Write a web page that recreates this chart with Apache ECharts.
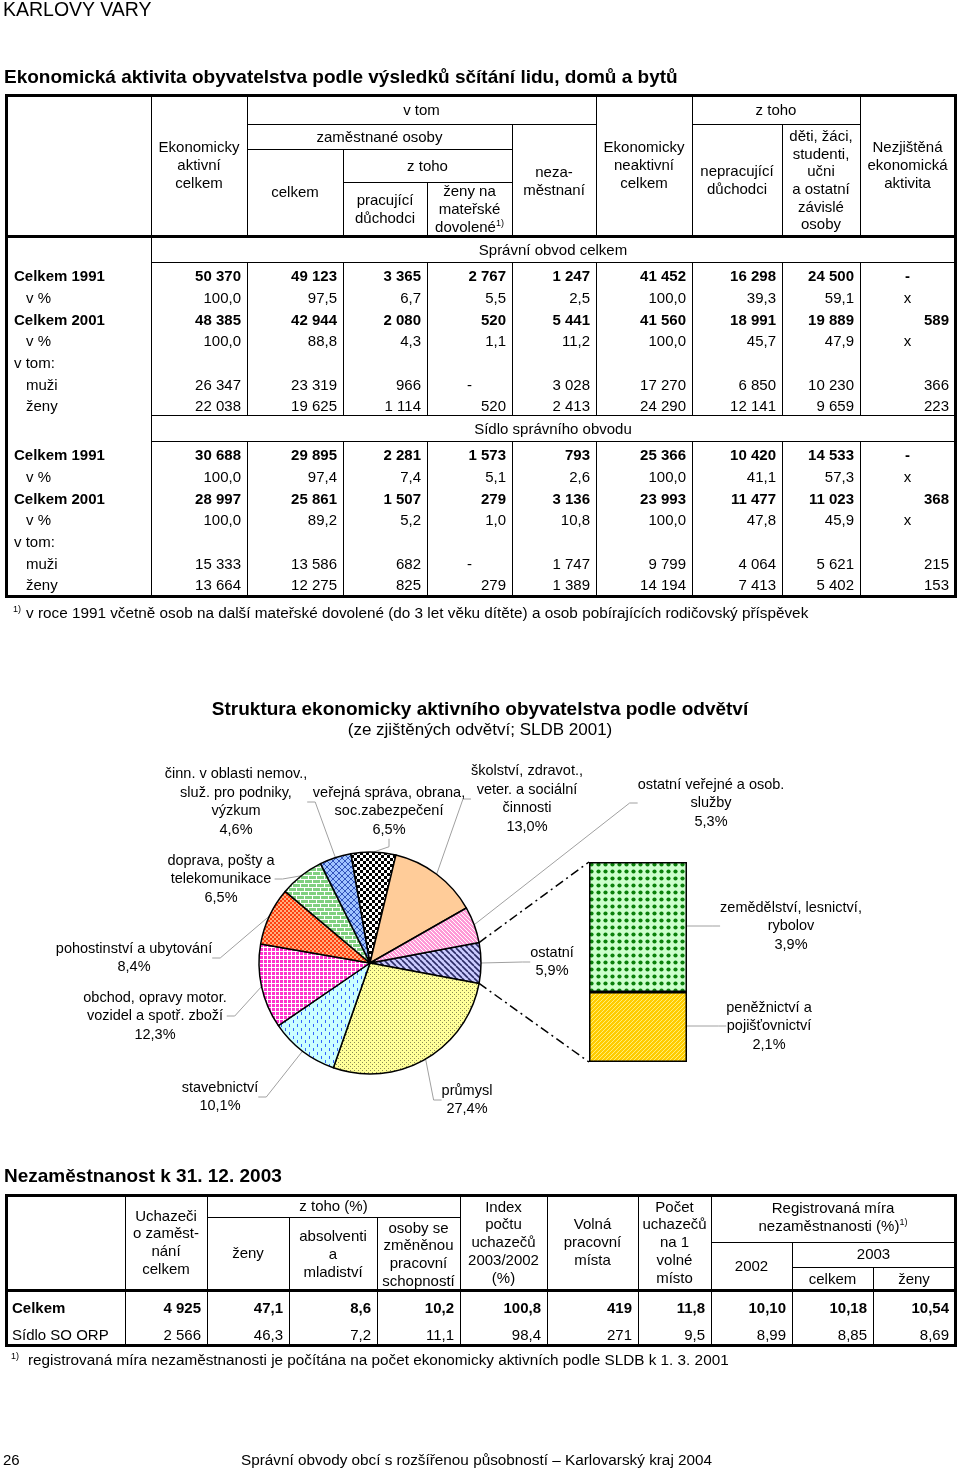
<!DOCTYPE html>
<html><head><meta charset="utf-8">
<script src="https://cdn.jsdelivr.net/npm/echarts@6/dist/echarts.min.js"></script>
<style>
html,body{margin:0;padding:0;background:#fff;}
body{width:960px;height:1469px;position:relative;overflow:hidden;font-family:"Liberation Sans",Arial,sans-serif;color:#000;}
#chart{position:absolute;left:0;top:0;width:960px;height:1469px;}
#page{position:absolute;left:0;top:0;width:960px;height:1469px;pointer-events:none;}
.t{position:absolute;white-space:nowrap;}
.ln{position:absolute;background:#000;}
sup{font-size:9px;vertical-align:0;position:relative;top:-6px;}
</style></head>
<body>
<div id="chart"></div>
<div id="page"></div>
<script>
// ---------------- DATA ----------------
const t1RowLabels = ['Celkem 1991', 'v %', 'Celkem 2001', 'v %', 'v tom:', 'muži', 'ženy'];
const t1SectionTitles = ['Správní obvod celkem', 'Sídlo správního obvodu'];
const t1Obvod = [
  ['50 370', '49 123', '3 365', '2 767', '1 247', '41 452', '16 298', '24 500', '-'],
  ['100,0', '97,5', '6,7', '5,5', '2,5', '100,0', '39,3', '59,1', 'x'],
  ['48 385', '42 944', '2 080', '520', '5 441', '41 560', '18 991', '19 889', '589'],
  ['100,0', '88,8', '4,3', '1,1', '11,2', '100,0', '45,7', '47,9', 'x'],
  null,
  ['26 347', '23 319', '966', '-', '3 028', '17 270', '6 850', '10 230', '366'],
  ['22 038', '19 625', '1 114', '520', '2 413', '24 290', '12 141', '9 659', '223']
];
const t1Sidlo = [
  ['30 688', '29 895', '2 281', '1 573', '793', '25 366', '10 420', '14 533', '-'],
  ['100,0', '97,4', '7,4', '5,1', '2,6', '100,0', '41,1', '57,3', 'x'],
  ['28 997', '25 861', '1 507', '279', '3 136', '23 993', '11 477', '11 023', '368'],
  ['100,0', '89,2', '5,2', '1,0', '10,8', '100,0', '47,8', '45,9', 'x'],
  null,
  ['15 333', '13 586', '682', '-', '1 747', '9 799', '4 064', '5 621', '215'],
  ['13 664', '12 275', '825', '279', '1 389', '14 194', '7 413', '5 402', '153']
];
const t2RowLabels = ['Celkem', 'Sídlo SO ORP'];
const t2Celkem = ['4 925', '47,1', '8,6', '10,2', '100,8', '419', '11,8', '10,10', '10,18', '10,54'];
const t2Sidlo = ['2 566', '46,3', '7,2', '11,1', '98,4', '271', '9,5', '8,99', '8,85', '8,69'];

const pieNames = ['ostatní', 'průmysl', 'stavebnictví', 'obchod, opravy motor.\nvozidel a spotř. zboží',
  'pohostinství a ubytování', 'doprava, pošty a\ntelekomunikace', 'činn. v oblasti nemov.,\nsluž. pro podniky,\nvýzkum',
  'veřejná správa, obrana,\nsoc.zabezpečení', 'školství, zdravot.,\nveter. a sociální\nčinnosti', 'ostatní veřejné a osob.\nslužby'];
const pieValues = [5.9, 27.4, 10.1, 12.3, 8.4, 6.5, 4.6, 6.5, 13.0, 5.3];
const barNames = ['peněžnictví a\npojišťovnictví', 'zemědělství, lesnictví,\nrybolov'];
const barValues = [2.1, 3.9];

// ---------------- PAGE (text + tables) ----------------
const FF = '"Liberation Sans",Arial,sans-serif';
const page = document.getElementById('page');
function line(x1, y1, x2, y2, w) {
  const d = document.createElement('div'); d.className = 'ln';
  if (y1 === y2) { d.style.left = (x1 - w / 2) + 'px'; d.style.top = (y1 - w / 2) + 'px'; d.style.width = (x2 - x1 + w) + 'px'; d.style.height = w + 'px'; }
  else { d.style.left = (x1 - w / 2) + 'px'; d.style.top = (y1 - w / 2) + 'px'; d.style.width = w + 'px'; d.style.height = (y2 - y1 + w) + 'px'; }
  page.appendChild(d);
}
function txt(x1, x2, yc, html, o) {
  o = o || {};
  const lh = o.lh || 17.7, size = o.size || 15;
  const n = (html.match(/<br>/g) || []).length + 1;
  const d = document.createElement('div'); d.className = 't';
  d.style.left = x1 + 'px'; d.style.width = (x2 - x1) + 'px';
  d.style.top = (yc - n * lh / 2) + 'px';
  d.style.lineHeight = lh + 'px'; d.style.fontSize = size + 'px';
  d.style.textAlign = o.align || 'center';
  if (o.bold) d.style.fontWeight = 'bold';
  if (o.family) d.style.fontFamily = o.family;
  if (o.pad) { d.style.boxSizing = 'border-box'; d.style.paddingRight = o.pad + 'px'; d.style.paddingLeft = o.pad + 'px'; }
  d.innerHTML = html;
  page.appendChild(d);
}
// headers
txt(3, 400, 9, 'KARLOVY VARY', { align: 'left', size: 19.5, lh: 22 });
txt(4, 900, 77, 'Ekonomická aktivita obyvatelstva podle výsledků sčítání lidu, domů a bytů', { align: 'left', size: 19, bold: true, lh: 22 });

// ---- Table 1 ----
const TK = 3;
const c1 = [151, 247, 343, 427, 512, 596, 692, 782, 860, 955];
line(6, 95, 955, 95, TK); line(6, 596, 955, 596, TK); line(6, 95, 6, 596, TK); line(955, 95, 955, 596, TK);
line(6, 236, 955, 236, TK);
line(151, 95, 151, 596, 1);
[[247, 95], [343, 149], [427, 182], [512, 124], [596, 95], [692, 95], [782, 124], [860, 95]].forEach(([x, y0]) => {
  line(x, y0, x, 236, 1); line(x, 262, x, 415, 1); line(x, 441, x, 596, 1);
});
line(247, 124, 596, 124, 1); line(692, 124, 860, 124, 1);
line(247, 149, 512, 149, 1); line(343, 182, 512, 182, 1);
[262, 415, 441].forEach(y => line(151, y, 955, y, 1));
txt(247, 596, 110, 'v tom'); txt(692, 860, 110, 'z toho');
txt(247, 512, 137, 'zaměstnané osoby'); txt(343, 512, 166, 'z toho');
txt(151, 247, 165, 'Ekonomicky<br>aktivní<br>celkem');
txt(247, 343, 192, 'celkem');
txt(343, 427, 209, 'pracující<br>důchodci');
txt(427, 512, 209, 'ženy na<br>mateřské<br>dovolené<sup>1)</sup>');
txt(512, 596, 181, 'neza-<br>městnaní');
txt(596, 692, 165, 'Ekonomicky<br>neaktivní<br>celkem');
txt(692, 782, 180, 'nepracující<br>důchodci');
txt(782, 860, 180, 'děti, žáci,<br>studenti,<br>učni<br>a ostatní<br>závislé<br>osoby');
txt(860, 955, 165, 'Nezjištěná<br>ekonomická<br>aktivita');
function section(title, yTitle, y0, rows) {
  txt(151, 955, yTitle, title);
  rows.forEach((r, i) => {
    const y = y0 + i * 21.7;
    const lab = t1RowLabels[i];
    const bold = lab.indexOf('Celkem') === 0;
    const indent = (lab === 'v %' || lab === 'muži' || lab === 'ženy') ? 26 : 14;
    txt(indent, 150, y, lab, { align: 'left', bold });
    if (!r) return;
    r.forEach((v, j) => {
      const centered = (v === '-' || v === 'x');
      txt(c1[j], c1[j + 1], y, v, { align: centered ? 'center' : 'right', pad: 6, bold });
    });
  });
}
section(t1SectionTitles[0], 250, 276, t1Obvod);
section(t1SectionTitles[1], 429, 455, t1Sidlo);
txt(13, 30, 613, '<sup>1)</sup>', { align: 'left', size: 15.3 });
txt(26, 950, 613, 'v roce 1991 včetně osob na další mateřské dovolené (do 3 let věku dítěte) a osob pobírajících rodičovský příspěvek', { align: 'left', size: 15.3 });

// ---- Table 2 ----
txt(4, 900, 1176, 'Nezaměstnanost k 31. 12. 2003', { align: 'left', size: 19, bold: true, lh: 22 });
const c2 = [125, 207, 289, 377, 460, 547, 638, 711, 792, 873, 955];
line(6, 1195, 955, 1195, TK); line(6, 1345, 955, 1345, TK); line(6, 1195, 6, 1345, TK); line(955, 1195, 955, 1345, TK);
line(6, 1290, 955, 1290, TK);
line(207, 1217, 460, 1217, 1); line(711, 1242, 955, 1242, 1); line(792, 1267, 955, 1267, 1);
[[125, 1195], [207, 1195], [289, 1217], [377, 1217], [460, 1195], [547, 1195], [638, 1195], [711, 1195], [792, 1242], [873, 1267]].forEach(([x, y0]) => line(x, y0, x, 1345, 1));
txt(125, 207, 1242, 'Uchazeči<br>o zaměst-<br>nání<br>celkem');
txt(207, 460, 1206, 'z toho (%)');
txt(207, 289, 1253, 'ženy');
txt(289, 377, 1254, 'absolventi<br>a<br>mladiství');
txt(377, 460, 1254, 'osoby se<br>změněnou<br>pracovní<br>schopností');
txt(460, 547, 1242, 'Index<br>počtu<br>uchazečů<br>2003/2002<br>(%)');
txt(547, 638, 1242, 'Volná<br>pracovní<br>místa');
txt(638, 711, 1242, 'Počet<br>uchazečů<br>na 1<br>volné<br>místo');
txt(711, 955, 1217, 'Registrovaná míra<br>nezaměstnanosti (%)<sup>1)</sup>');
txt(711, 792, 1266, '2002');
txt(792, 955, 1254, '2003');
txt(792, 873, 1279, 'celkem'); txt(873, 955, 1279, 'ženy');
[t2Celkem, t2Sidlo].forEach((r, i) => {
  const y = 1308 + i * 27;
  const bold = i === 0;
  txt(12, 124, y, t2RowLabels[i], { align: 'left', bold });
  r.forEach((v, j) => txt(c2[j], c2[j + 1], y, v, { align: 'right', pad: 6, bold }));
});
txt(11, 30, 1360, '<sup>1)</sup>', { align: 'left', size: 15.3 });
txt(28, 950, 1360, 'registrovaná míra nezaměstnanosti je počítána na počet ekonomicky aktivních podle SLDB k 1. 3. 2001', { align: 'left', size: 15.3 });

// footer
txt(3, 60, 1460, '26', { align: 'left', size: 15, family: '"Liberation Sans Narrow","Liberation Sans",Arial,sans-serif' });
txt(241, 900, 1460, 'Správní obvody obcí s rozšířenou působností – Karlovarský kraj 2004', { align: 'left', size: 15.3, family: '"Liberation Sans Narrow","Liberation Sans",Arial,sans-serif' });

// ---------------- PATTERNS ----------------
function pat(size, draw) {
  const c = document.createElement('canvas'); c.width = size; c.height = size;
  const g = c.getContext('2d'); draw(g, size);
  return { image: c, repeat: 'repeat' };
}
function diag(g, s, col, w, dir) {
  g.strokeStyle = col; g.lineWidth = w;
  for (let k = -1; k <= 1; k++) {
    g.beginPath();
    if (dir > 0) { g.moveTo(k * s, 0); g.lineTo(k * s + s, s); }
    else { g.moveTo(k * s + s, 0); g.lineTo(k * s, s); }
    g.stroke();
  }
}
const pieFills = [
  pat(6, (g, s) => { g.fillStyle = '#CCCCFF'; g.fillRect(0, 0, s, s); diag(g, s, '#2B2B66', 1.6, 1); }),
  pat(4, (g, s) => { g.fillStyle = '#FFFF99'; g.fillRect(0, 0, s, s); g.fillStyle = '#8A8A55'; g.fillRect(0, 0, 1, 1); g.fillRect(2, 2, 1, 1); }),
  pat(8, (g, s) => { g.fillStyle = '#CCFFFF'; g.fillRect(0, 0, s, s); g.fillStyle = '#3366FF'; g.fillRect(1, 0, 1, 3); g.fillRect(5, 4, 1, 3); }),
  pat(4, (g, s) => { g.fillStyle = '#FF33CC'; g.fillRect(0, 0, s, s); g.fillStyle = '#FFFFFF'; g.fillRect(3, 0, 1, 4); g.fillRect(0, 3, 4, 1); }),
  pat(4, (g, s) => { g.fillStyle = '#FFB080'; g.fillRect(0, 0, s, s); g.fillStyle = '#FF4010'; g.fillRect(0, 0, 2, 2); g.fillRect(2, 2, 2, 2); }),
  pat(8, (g, s) => { g.fillStyle = '#80D080'; g.fillRect(0, 0, s, s); g.fillStyle = '#FFFFFF'; g.fillRect(0, 3, 8, 1); g.fillRect(0, 7, 8, 1); g.fillRect(0, 0, 1, 3); g.fillRect(4, 4, 1, 3); }),
  pat(6, (g, s) => { g.fillStyle = '#A0C4FF'; g.fillRect(0, 0, s, s); diag(g, s, '#3355BB', 1, 1); diag(g, s, '#3355BB', 1, -1); }),
  pat(6, (g, s) => { g.fillStyle = '#FFFFFF'; g.fillRect(0, 0, s, s); g.fillStyle = '#000000'; g.fillRect(0, 0, 3, 3); g.fillRect(3, 3, 3, 3); }),
  '#FFCC99',
  pat(4, (g, s) => { g.fillStyle = '#FF99D6'; g.fillRect(0, 0, s, s); diag(g, s, '#FFFFFF', 1, 1); })
];
const barFills = [
  pat(4, (g, s) => { g.fillStyle = '#FFCC00'; g.fillRect(0, 0, s, s); g.fillStyle = '#FFEE77'; g.fillRect(1, 0, 1, 1); g.fillRect(0, 1, 1, 1); g.fillRect(3, 2, 1, 1); g.fillRect(2, 3, 1, 1); }),
  pat(7, (g, s) => { g.fillStyle = '#CCFFCC'; g.fillRect(0, 0, s, s); g.fillStyle = '#0A800A'; g.beginPath(); g.arc(3.5, 3.5, 2.1, 0, Math.PI * 2); g.fill(); })
];

// ---------------- CHART ----------------
const PIE_C = [370, 963], PIE_R = 111;
const pieSum = pieValues.reduce((a, b) => a + b, 0);
const startAngle = 360 * pieValues[0] / pieSum / 2;
const barTotal = barValues.reduce((a, b) => a + b, 0);
const pieLabelPos = [[552, 962], [467, 1100], [220, 1097], [155, 1016], [134, 958], [221, 879], [236, 802], [389, 811], [527, 799], [711, 803]];
const barLabelPos = [[769, 1026], [791, 926]];
const fmt = v => v.toFixed(1).replace('.', ',') + '%';
const labelStyle = { color: '#000', fontSize: 14.5, lineHeight: 18.5, fontFamily: FF, align: 'center' };
const leader = { show: true, length: 8, length2: 8, lineStyle: { color: '#A0A0A0', width: 1 } };

const chart = echarts.init(document.getElementById('chart'), null, { renderer: 'canvas' });
const option = {
  animation: false,
  title: {
    text: 'Struktura ekonomicky aktivního obyvatelstva podle odvětví',
    subtext: '(ze zjištěných odvětví; SLDB 2001)',
    left: 'center', top: 695, itemGap: 3,
    textStyle: { fontSize: 19, fontWeight: 'bold', color: '#000', fontFamily: FF },
    subtextStyle: { fontSize: 17, color: '#000', fontFamily: FF }
  },
  grid: { left: 589, top: 862, width: 98, height: 200 },
  xAxis: { type: 'category', data: ['ostatní'], show: false },
  yAxis: { type: 'value', min: 0, max: barTotal, show: false },
  series: [
    {
      type: 'pie', center: PIE_C, radius: PIE_R, startAngle: startAngle, clockwise: true,
      avoidLabelOverlap: false,
      data: pieValues.map((v, i) => ({ name: pieNames[i], value: v, itemStyle: { color: pieFills[i] } })),
      itemStyle: { borderColor: '#000', borderWidth: 1.5 },
      label: Object.assign({ show: true, position: 'outside', formatter: p => p.name + '\n' + fmt(p.value) }, labelStyle),
      labelLine: leader,
      labelLayout: p => ({ x: pieLabelPos[p.dataIndex][0], y: pieLabelPos[p.dataIndex][1], align: 'center', verticalAlign: 'middle' }),
      emphasis: { disabled: true }
    }
  ].concat(barValues.map((v, i) => ({
    type: 'bar', stack: 'ost', barWidth: '100%', name: barNames[i],
    data: [v],
    itemStyle: { color: barFills[i], borderColor: '#000', borderWidth: 1.5 },
    label: Object.assign({ show: true, position: 'right', formatter: () => barNames[i] + '\n' + fmt(v) }, labelStyle),
    labelLine: leader,
    labelLayout: () => ({ x: barLabelPos[i][0], y: barLabelPos[i][1], align: 'center', verticalAlign: 'middle' }),
    emphasis: { disabled: true }
  })))
};
chart.setOption(option);

// connector lines from the "ostatní" slice to the bar
const a = startAngle * Math.PI / 180;
const pTop = [PIE_C[0] + PIE_R * Math.cos(a), PIE_C[1] - PIE_R * Math.sin(a)];
const pBot = [PIE_C[0] + PIE_R * Math.cos(a), PIE_C[1] + PIE_R * Math.sin(a)];
const barLeft = option.grid.left;
const yTopPx = chart.convertToPixel({ yAxisIndex: 0 }, barTotal);
const yBotPx = chart.convertToPixel({ yAxisIndex: 0 }, 0);
const dash = { stroke: '#000', lineWidth: 1.5, lineDash: [9, 4, 2, 4] };
chart.setOption({
  graphic: [
    { type: 'line', shape: { x1: pTop[0], y1: pTop[1], x2: barLeft, y2: yTopPx }, style: dash, silent: true },
    { type: 'line', shape: { x1: pBot[0], y1: pBot[1], x2: barLeft, y2: yBotPx }, style: dash, silent: true }
  ]
});
</script>
</body></html>
